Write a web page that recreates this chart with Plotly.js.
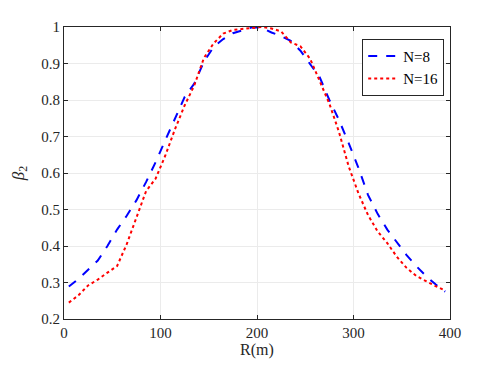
<!DOCTYPE html>
<html>
<head>
<meta charset="utf-8">
<script src="https://cdn.plot.ly/plotly-3.0.1.min.js"></script>
</head>
<body style="margin:0">
<div id="chart"></div>
<script>
const R = [5,15,25,35,45,55,65,75,85,95,105,115,125,135,145,155,165,175,185,195,205,215,225,235,245,255,265,275,285,295,305,315,325,335,345,355,365,375,385,395];
const beta_N8 = [0.289,0.31,0.335,0.36,0.40,0.445,0.483,0.525,0.575,0.630,0.69,0.75,0.808,0.845,0.905,0.945,0.967,0.983,0.992,0.999,0.998,0.985,0.975,0.962,0.935,0.90,0.862,0.80,0.745,0.682,0.615,0.54,0.488,0.445,0.41,0.375,0.345,0.318,0.295,0.275];
const beta_N16 = [0.245,0.265,0.292,0.308,0.327,0.345,0.405,0.475,0.55,0.585,0.648,0.72,0.785,0.84,0.915,0.955,0.982,0.992,0.995,0.999,1.0,0.996,0.988,0.958,0.947,0.913,0.849,0.79,0.712,0.618,0.545,0.485,0.44,0.408,0.37,0.34,0.318,0.303,0.29,0.278];
const seriesNames = ['N=8','N=16'];
const xTicks = [0,100,200,300,400];
const yTicks = [0.2,0.3,0.4,0.5,0.6,0.7,0.8,0.9,1];
const yTickText = ['0.2','0.3','0.4','0.5','0.6','0.7','0.8','0.9','1'];

const fam = 'Liberation Serif';
const traces = [
  {x:R, y:beta_N8, name:seriesNames[0], mode:'lines', line:{color:'#0000ff', width:2, dash:'dash'}},
  {x:R, y:beta_N16, name:seriesNames[1], mode:'lines', line:{color:'#ff0000', width:2, dash:'dot'}}
];
const layout = {
  width:498, height:367,
  margin:{l:64, r:48, t:27, b:48},
  paper_bgcolor:'#fff', plot_bgcolor:'#fff',
  font:{family:fam, size:15, color:'#262626'},
  showlegend:true,
  legend:{x:0.985, xanchor:'right', y:0.96, yanchor:'top', bgcolor:'#fff', bordercolor:'#262626', borderwidth:1, font:{size:15, color:'#000'}, tracegroupgap:0},
  xaxis:{range:[0,400], tickvals:xTicks, showline:true, mirror:'ticks', linecolor:'#262626', ticks:'inside', ticklen:4, tickcolor:'#262626', showgrid:true, gridcolor:'#ebebeb', zeroline:false,
         title:{text:'R(m)', font:{size:16}, standoff:2}},
  yaxis:{range:[0.2,1], tickvals:yTicks, ticktext:yTickText, showline:true, mirror:'ticks', linecolor:'#262626', ticks:'inside', ticklen:4, tickcolor:'#262626', showgrid:true, gridcolor:'#ebebeb', zeroline:false,
         title:{text:'<i>β</i><sub>2</sub>', font:{size:17}, standoff:12}}
};
const gd = document.getElementById('chart');
function forceSerif(){
  gd.querySelectorAll('text').forEach(t => { t.style.fontFamily = '"Liberation Serif", serif'; });
}
Plotly.newPlot(gd, traces, layout, {displayModeBar:false}).then(forceSerif);
gd.on && gd.on('plotly_afterplot', forceSerif);
</script>
</body>
</html>
